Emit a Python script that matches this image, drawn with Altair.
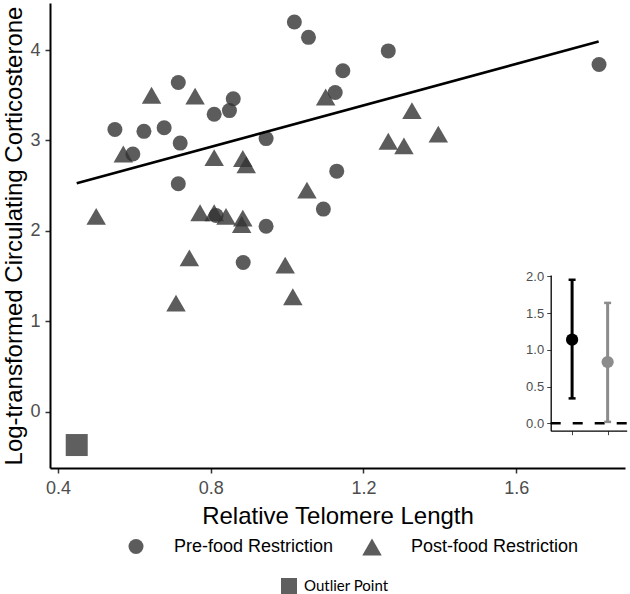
import altair as alt
import pandas as pd

# Relative telomere length (x) and log-transformed corticosterone (y)
pre_rtl = [1.019, 1.056, 1.265, 1.146, 1.126, 1.817, 0.715, 0.859, 0.849, 0.809, 0.549,
           0.625, 0.678, 0.720, 0.596, 0.945, 0.715, 0.945, 1.130, 1.095, 0.885, 0.814]
pre_cort = [4.31, 4.14, 3.99, 3.77, 3.53, 3.84, 3.64, 3.46, 3.33, 3.29, 3.12,
            3.10, 3.14, 2.97, 2.85, 3.02, 2.52, 2.05, 2.66, 2.24, 1.65, 2.17]
post_rtl = [0.500, 0.645, 0.759, 0.571, 0.809, 0.884, 0.893, 0.772, 0.809, 0.840, 0.884,
            0.881, 0.744, 0.709, 0.995, 1.015, 1.052, 1.101, 1.327, 1.265, 1.306, 1.396]
post_cort = [2.16, 3.50, 3.49, 2.85, 2.81, 2.80, 2.73, 2.20, 2.20, 2.16, 2.14,
             2.07, 1.70, 1.20, 1.62, 1.27, 2.45, 3.48, 3.33, 2.99, 2.94, 3.07]
phases = ["Pre-food Restriction", "Post-food Restriction"]

outlier_rtl = [0.449]
outlier_cort = [-0.37]
outlier_label = ["Outlier Point"]

# Fitted regression line end points
fit_rtl = [0.449, 1.816]
fit_cort = [2.527, 4.093]

# Inset: estimate with confidence interval per phase
inset_group = ["Pre", "Post"]
inset_index = [1, 2]
inset_est = [1.14, 0.835]
inset_lo = [0.34, 0.02]
inset_hi = [1.955, 1.64]

FONT = "Liberation Sans"
W, H = 575, 465

pts = pd.DataFrame({
    "rtl": pre_rtl + post_rtl,
    "cort": pre_cort + post_cort,
    "phase": [phases[0]] * len(pre_rtl) + [phases[1]] * len(post_rtl),
})
outlier = pd.DataFrame({"rtl": outlier_rtl, "cort": outlier_cort, "kind": outlier_label})
fit = pd.DataFrame({"rtl": fit_rtl, "cort": fit_cort})
inset = pd.DataFrame({"group": inset_group, "idx": inset_index, "est": inset_est,
                      "lo": inset_lo, "hi": inset_hi})
caps = pd.DataFrame({"group": inset_group * 2, "idx": inset_index * 2,
                     "val": inset_lo + inset_hi})
zero_line = pd.DataFrame({"y": [0.0], "x0": [0.398], "x1": [2.537]})

x_scale = alt.Scale(domain=[0.379, 1.885], nice=False, zero=False)
y_scale = alt.Scale(domain=[-0.624, 4.52], nice=False, zero=False)

x_axis = alt.Axis(values=[0.4, 0.8, 1.2, 1.6], format=".1f", grid=False,
                  title="Relative Telomere Length", titleFont=FONT, titleFontSize=24,
                  titleFontWeight="normal", titleColor="black", titlePadding=7,
                  labelFont=FONT, labelFontSize=18, labelColor="#4d4d4d", labelPadding=6,
                  tickSize=5, tickColor="#333333", tickWidth=1.5,
                  domainColor="black", domainWidth=2)
y_axis = alt.Axis(values=[0, 1, 2, 3, 4], format="d", grid=False,
                  title="Log-transformed Circulating Corticosterone", titleFont=FONT,
                  titleFontSize=24, titleFontWeight="normal", titleColor="black",
                  titlePadding=3, titleLimit=600, labelFont=FONT, labelFontSize=18,
                  labelColor="#4d4d4d", labelPadding=5, tickSize=5, tickColor="#333333",
                  tickWidth=1.5, domainColor="black", domainWidth=2)

phase_legend = alt.Legend(orient="none", legendX=77, legendY=534, direction="horizontal",
                          title=None, labelFont=FONT, labelFontSize=18, labelColor="black",
                          labelOffset=29, columnPadding=28, labelLimit=400,
                          symbolStrokeWidth=0)

points = alt.Chart(pts).mark_point(filled=True, color="#333333", opacity=0.8).encode(
    x=alt.X("rtl:Q", scale=x_scale, axis=x_axis),
    y=alt.Y("cort:Q", scale=y_scale, axis=y_axis),
    shape=alt.Shape("phase:N", scale=alt.Scale(domain=phases, range=["circle", "triangle-up"]),
                    legend=phase_legend),
    size=alt.Size("phase:N", scale=alt.Scale(domain=phases, range=[225, 380]),
                  legend=phase_legend),
)

fit_line = alt.Chart(fit).mark_line(color="black", strokeWidth=2.6).encode(
    x=alt.X("rtl:Q", scale=x_scale),
    y=alt.Y("cort:Q", scale=y_scale),
)

outlier_pt = alt.Chart(outlier).mark_point(filled=True, color="#5f5f5f", opacity=1,
                                           size=484).encode(
    x=alt.X("rtl:Q", scale=x_scale),
    y=alt.Y("cort:Q", scale=y_scale),
    shape=alt.Shape("kind:N", scale=alt.Scale(domain=outlier_label, range=["square"]),
                    legend=alt.Legend(orient="none", legendX=231, legendY=575, title=None,
                                      labelFont="Lato", labelFontSize=15, labelColor="black",
                                      labelOffset=7, labelLimit=300, symbolSize=256,
                                      symbolStrokeWidth=0)),
)

main = alt.layer(points, fit_line, outlier_pt).resolve_scale(shape="independent",
                                                             size="independent")

# Inset panel with its own scales placed in the lower right of the plot area
ix_scale = alt.Scale(domain=[0.398, 2.537], range=[500.7, 576.7], nice=False, zero=False)
iy_scale = alt.Scale(domain=[-0.1, 2.02], range=[427.7, 272], nice=False, zero=False)
col_scale = alt.Scale(domain=inset_group, range=["black", "#8c8c8c"])

ix_axis = alt.Axis(orient="bottom", offset=-(H - 427.7), values=[1, 2], labels=False,
                   title=None, grid=False, tickSize=4, tickColor="#444444", tickWidth=1,
                   domainColor="black", domainWidth=1.3)
iy_axis = alt.Axis(orient="left", offset=-500.7, values=[0, 0.5, 1, 1.5, 2], format=".1f",
                   title=None, grid=False, labelFont=FONT, labelFontSize=13,
                   labelColor="#4d4d4d", labelPadding=3, tickSize=4, tickColor="#444444",
                   tickWidth=1, domainColor="black", domainWidth=1.3)

dash = alt.Chart(zero_line).mark_rule(color="black", strokeWidth=2.5,
                                      strokeDash=[10, 12]).encode(
    x=alt.X("x0:Q", scale=ix_scale, axis=ix_axis),
    x2="x1:Q",
    y=alt.Y("y:Q", scale=iy_scale, axis=iy_axis),
)

bars = alt.Chart(inset).mark_rule(strokeWidth=3).encode(
    x=alt.X("idx:Q", scale=ix_scale),
    y=alt.Y("lo:Q", scale=iy_scale),
    y2="hi:Q",
    color=alt.Color("group:N", scale=col_scale, legend=None),
)

cap_marks = alt.Chart(caps).mark_rule(strokeWidth=2.5, xOffset=-3.5, x2Offset=3.5).encode(
    x=alt.X("idx:Q", scale=ix_scale),
    x2="idx:Q",
    y=alt.Y("val:Q", scale=iy_scale),
    color=alt.Color("group:N", scale=col_scale, legend=None),
)

dots = alt.Chart(inset).mark_circle(size=150, opacity=1).encode(
    x=alt.X("idx:Q", scale=ix_scale),
    y=alt.Y("est:Q", scale=iy_scale),
    color=alt.Color("group:N", scale=col_scale, legend=None),
)

inset_panel = alt.layer(dash, bars, cap_marks, dots)

chart = alt.layer(main, inset_panel).resolve_scale(
    x="independent", y="independent"
).properties(
    width=W, height=H,
    padding={"left": 50, "top": 3, "right": 5, "bottom": 126},
    autosize=alt.AutoSizeParams(type="none"),
).configure_view(stroke=None)

chart.save("out.html", embed_options={"renderer": "svg", "actions": False})
